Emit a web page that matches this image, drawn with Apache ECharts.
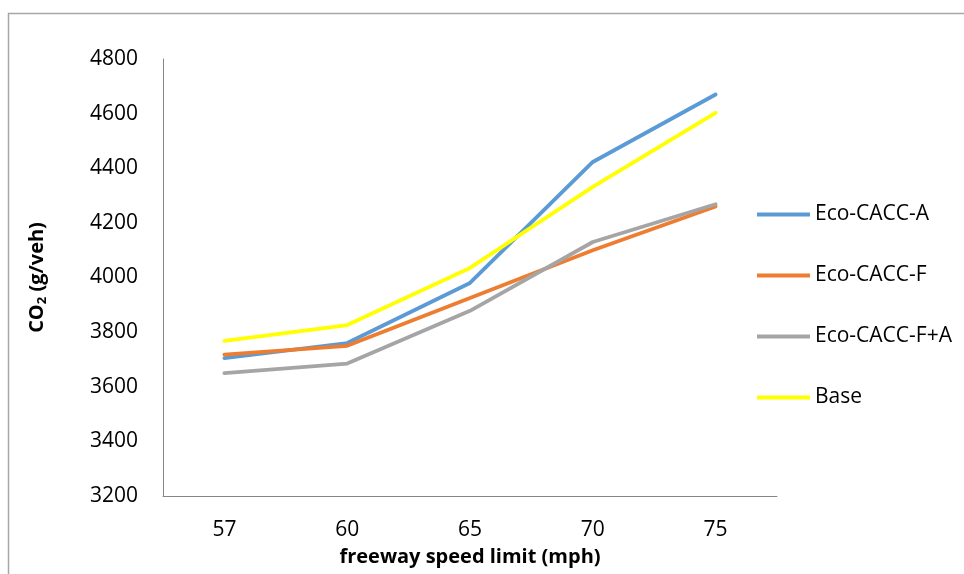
<!DOCTYPE html>
<html>
<head>
<meta charset="utf-8">
<script src="https://cdn.jsdelivr.net/npm/echarts@6/dist/echarts.min.js"></script>
<style>
html,body{margin:0;padding:0;background:#fff;}
#c{width:964px;height:574px;}
</style>
</head>
<body>
<div id="c"></div>
<script>
const categories = ['57', '60', '65', '70', '75'];
const ecoCaccA = [3705, 3760, 3980, 4423, 4670];
const ecoCaccF = [3718, 3750, 3925, 4100, 4260];
const ecoCaccFA = [3650, 3685, 3878, 4130, 4268];
const base = [3768, 3826, 4035, 4332, 4603];
const yTicks = { min: 3200, max: 4800, interval: 200 };

const FONT = 'Open Sans';
const chart = echarts.init(document.getElementById('c'));
const mk = (name, data, color) => ({
  name, type: 'line', data, symbol: 'none', smooth: false,
  lineStyle: { color, width: 3.8, cap: 'round', join: 'round' },
  itemStyle: { color },
  emphasis: { disabled: true }
});
chart.setOption({
  animation: false,
  backgroundColor: '#fff',
  graphic: [{
    type: 'rect', left: 6, top: 11, silent: true,
    shape: { width: 1000, height: 620 },
    style: { fill: 'none', stroke: '#a6a6a6', lineWidth: 1.5 }
  }],
  grid: { left: 163, top: 59, width: 614, height: 437, containLabel: false },
  legend: {
    orient: 'vertical', left: 752, top: 199,
    icon: 'rect', itemWidth: 53, itemHeight: 4, itemGap: 40,
    textStyle: { fontFamily: FONT, fontSize: 21, color: '#000' },
    data: ['Eco-CACC-A', 'Eco-CACC-F', 'Eco-CACC-F+A', 'Base']
  },
  xAxis: {
    type: 'category', data: categories, boundaryGap: true,
    axisLine: { lineStyle: { color: '#868686', width: 1 } },
    axisTick: { show: false },
    axisLabel: { margin: 24, fontFamily: FONT, fontSize: 21, color: '#000' },
    splitLine: { show: false },
    name: 'freeway speed limit (mph)', nameLocation: 'middle', nameGap: 61,
    nameTextStyle: { fontFamily: FONT, fontSize: 20, fontWeight: 'bold', color: '#000', verticalAlign: 'middle' }
  },
  yAxis: {
    type: 'value', min: yTicks.min, max: yTicks.max, interval: yTicks.interval,
    axisLine: { show: true, lineStyle: { color: '#868686', width: 1 } },
    axisTick: { show: false },
    axisLabel: { margin: 25, fontFamily: FONT, fontSize: 21, color: '#000', formatter: v => String(v) },
    splitLine: { show: false },
    name: '{a|CO}{s|2}{a| (g/veh)}', nameLocation: 'middle', nameGap: 126, nameRotate: 90,
    nameTextStyle: {
      fontFamily: FONT, fontSize: 20, fontWeight: 'bold', color: '#000', verticalAlign: 'middle',
      rich: {
        a: { fontFamily: FONT, fontSize: 20, fontWeight: 'bold', color: '#000' },
        s: { fontFamily: FONT, fontSize: 13, fontWeight: 'bold', color: '#000', padding: [10, 0, 0, 0] }
      }
    }
  },
  series: [
    mk('Eco-CACC-A', ecoCaccA, '#5B9BD5'),
    mk('Eco-CACC-F', ecoCaccF, '#ED7D31'),
    mk('Eco-CACC-F+A', ecoCaccFA, '#A5A5A5'),
    mk('Base', base, '#FFFF00')
  ]
});
</script>
</body>
</html>
